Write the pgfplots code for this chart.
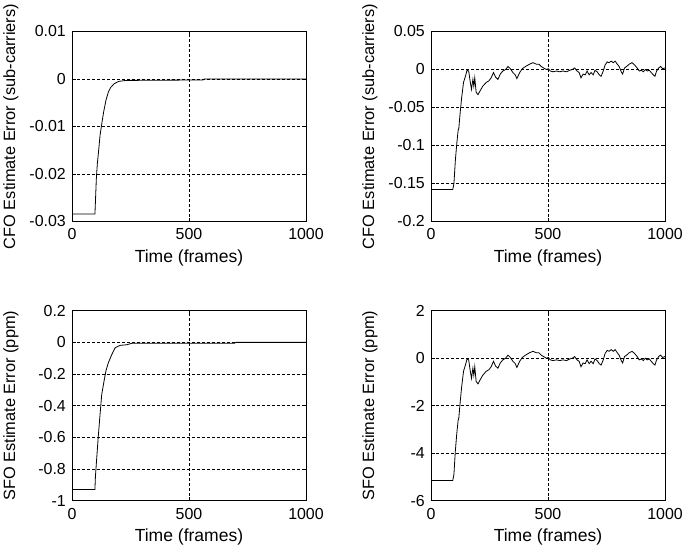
\documentclass[border=0pt]{standalone}
\usepackage{fontspec}
\setmainfont{Liberation Sans}
\usepackage{pgfplots}
\usepackage{pgfplotstable}
\pgfplotsset{compat=1.18}

% smooth convergence curves
\pgfplotstableread{
frame cfo
0     -0.0284
98    -0.0284
100   -0.0260
104   -0.0210
108   -0.0180
114   -0.0150
120   -0.0118
127   -0.0095
135   -0.0070
145   -0.0045
155   -0.0028
165   -0.0018
180   -0.0010
200   -0.0005
230   -0.0003
560   -0.0002
565    0
1000   0
}\cfosmooth

\pgfplotstableread{
frame sfo
0     -0.929
98    -0.929
100   -0.850
105   -0.745
112   -0.600
120   -0.453
127   -0.330
137   -0.244
145   -0.180
155   -0.130
170   -0.077
184   -0.035
205   -0.019
234   -0.015
255   -0.006
695   -0.005
700    0
1000   0
}\sfosmooth

% noisy tracking curves
\pgfplotstableread{
frame cfo sfo
0    -0.158 -5.15
93   -0.158 -5.15
98   -0.150 -4.89
104  -0.120 -3.91
110  -0.098 -3.19
116  -0.080 -2.61
119  -0.077 -2.51
124  -0.059 -1.92
131  -0.037 -1.21
139  -0.017 -0.55
147  -0.009 -0.29
154  -0.001 -0.03
161  -0.002 -0.07
167  -0.015 -0.49
173  -0.026 -0.85
179  -0.013 -0.42
183  -0.022 -0.72
187  -0.011 -0.36
193  -0.030 -0.98
201  -0.033 -1.08
210  -0.028 -0.91
221  -0.022 -0.72
236  -0.017 -0.55
247  -0.015 -0.49
257  -0.011 -0.36
267  -0.004 -0.13
276  -0.010 -0.33
286  -0.013 -0.42
296  -0.006 -0.20
307  -0.002 -0.07
319   0.000  0.00
329   0.004  0.13
339   0.001  0.03
350  -0.004 -0.13
360  -0.007 -0.23
367  -0.012 -0.39
379  -0.004 -0.13
390   0.001  0.03
404   0.004  0.13
421   0.007  0.23
436   0.009  0.29
450   0.007  0.23
461   0.007  0.23
471   0.004  0.13
481   0.002  0.07
493   0.000  0.00
501   0.001  0.03
510  -0.002 -0.07
521  -0.003 -0.10
536  -0.002 -0.07
550  -0.003 -0.10
564  -0.002 -0.07
579  -0.003 -0.10
593  -0.001 -0.03
604   0.000  0.00
614   0.002  0.07
624  -0.002 -0.07
633  -0.004 -0.13
641  -0.011 -0.36
650  -0.006 -0.20
659  -0.007 -0.23
667  -0.002 -0.07
676  -0.007 -0.23
684  -0.004 -0.13
693  -0.007 -0.23
701  -0.001 -0.03
710  -0.003 -0.10
719  -0.007 -0.23
727  -0.009 -0.29
736  -0.002 -0.07
744   0.006  0.20
753   0.010  0.33
761   0.009  0.29
770   0.011  0.36
779   0.009  0.29
787   0.011  0.36
796   0.007  0.23
804   0.004  0.13
813  -0.003 -0.10
819  -0.006 -0.20
827   0.002  0.07
836   0.004  0.13
847   0.007  0.23
859   0.009  0.29
870   0.006  0.20
881   0.002  0.07
890  -0.002 -0.07
899  -0.001 -0.03
907  -0.003 -0.10
916   0.000  0.00
924  -0.002 -0.07
933  -0.001 -0.03
941  -0.004 -0.13
950  -0.007 -0.23
957  -0.009 -0.29
964  -0.002 -0.07
973   0.002  0.07
981   0.004  0.13
990   0.001  0.03
1000  0.002  0.07
}\noisy

\pgfplotsset{
  panel/.style={
    scale only axis,
    width=234bp, height=190bp,
    anchor=south west,
    xmin=0, xmax=1000,
    scaled x ticks=false, scaled y ticks=false,
    xtick={0,500,1000},
    xticklabels={0,500,1000},
    grid=major,
    major grid style={black, line width=0.5bp, dash pattern=on 3bp off 2bp},
    axis line style={line width=0.8bp},
    tick style={black, line width=0.6bp},
    tick align=inside,
    major tick length=4bp,
    ticklabel style={font=\fontsize{16}{19}\selectfont},
    xticklabel style={inner sep=0pt, yshift=-7bp},
    yticklabel style={inner sep=0pt, xshift=-6bp},
    xlabel={Time (frames)},
    xlabel style={at={(axis description cs:0.5,0)}, anchor=north, inner sep=0pt, yshift=-28bp,
      font=\fontsize{17.6}{20}\selectfont},
    ylabel style={at={(axis description cs:-0.295,0.5)}, anchor=north, inner sep=0pt,
      font=\fontsize{16.4}{19}\selectfont},
  },
  curve/.style={black, line width=0.8bp, no markers},
}

\begin{document}
\begin{tikzpicture}
\useasboundingbox (0,0) rectangle (685bp,-546bp);

\begin{axis}[panel, at={(72bp,-221.5bp)},
  ymin=-0.03, ymax=0.01,
  ytick={-0.03,-0.02,-0.01,0,0.01},
  yticklabels={-0.03,-0.02,-0.01,0,0.01},
  ylabel={CFO Estimate Error (sub-carriers)}]
\addplot[curve] table[x=frame, y=cfo] {\cfosmooth};
\end{axis}

\begin{axis}[panel, at={(431bp,-221.5bp)},
  ymin=-0.2, ymax=0.05,
  ytick={-0.2,-0.15,-0.1,-0.05,0,0.05},
  yticklabels={-0.2,-0.15,-0.1,-0.05,0,0.05},
  ylabel={CFO Estimate Error (sub-carriers)}]
\addplot[curve] table[x=frame, y=cfo] {\noisy};
\end{axis}

\begin{axis}[panel, at={(72bp,-500.7bp)},
  ymin=-1, ymax=0.2,
  ytick={-1,-0.8,-0.6,-0.4,-0.2,0,0.2},
  yticklabels={-1,-0.8,-0.6,-0.4,-0.2,0,0.2},
  ylabel={SFO Estimate Error (ppm)}]
\addplot[curve] table[x=frame, y=sfo] {\sfosmooth};
\end{axis}

\begin{axis}[panel, at={(431bp,-500.7bp)},
  ymin=-6, ymax=2,
  ytick={-6,-4,-2,0,2},
  yticklabels={-6,-4,-2,0,2},
  ylabel={SFO Estimate Error (ppm)}]
\addplot[curve] table[x=frame, y=sfo] {\noisy};
\end{axis}
\end{tikzpicture}
\end{document}
